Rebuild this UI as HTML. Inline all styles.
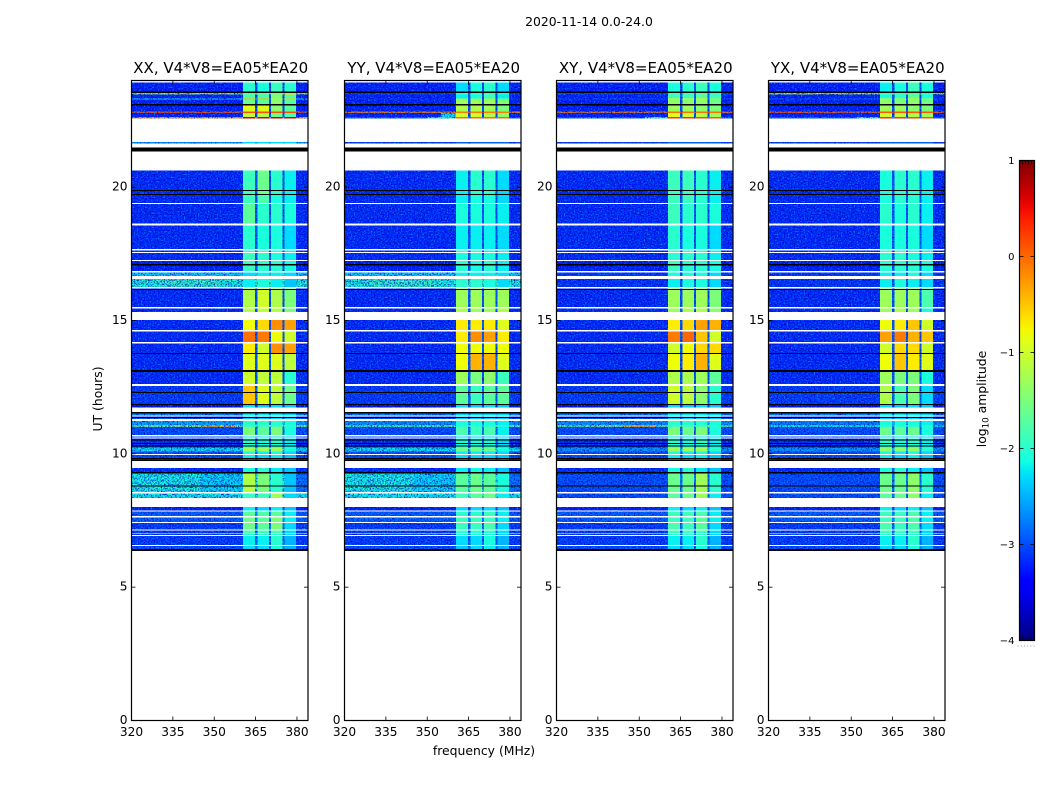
<!DOCTYPE html>
<html>
<head>
<meta charset="utf-8">
<title>2020-11-14 0.0-24.0</title>
<style>
html,body{margin:0;padding:0;background:#fff;}
svg{display:block;}
text{font-family:"DejaVu Sans","Liberation Sans",sans-serif;fill:#000;}
.cell{shape-rendering:crispEdges;}
</style>
</head>
<body>
<svg id="chart" xmlns="http://www.w3.org/2000/svg" width="1050" height="800" viewBox="0 0 1050 800">
  <defs>
    <filter id="speckle" x="0" y="0" width="100%" height="100%" color-interpolation-filters="sRGB">
      <feTurbulence type="fractalNoise" baseFrequency="0.7" numOctaves="1" seed="4" result="n"/>
      <feColorMatrix in="n" type="matrix" values="0 0 0 0 0  0 0 0 0 0.55  0 0 0 0 1  3.2 0 0 0 -1.5" result="tint"/>
      <feColorMatrix in="n" type="matrix" values="0 0 0 0 0  0 0 0 0 0  0 0 0 0 0.7  0 3.2 0 0 -1.5" result="shade"/>
      <feComposite in="tint" in2="SourceAlpha" operator="in" result="spots"/>
      <feComposite in="shade" in2="SourceAlpha" operator="in" result="darks"/>
      <feMerge><feMergeNode in="SourceGraphic"/><feMergeNode in="spots"/><feMergeNode in="darks"/></feMerge>
    </filter>
    <linearGradient id="jet-gradient" x1="0" y1="1" x2="0" y2="0"></linearGradient>
  </defs>
  <text x="589" y="26" font-size="12.4" text-anchor="middle">2020-11-14 0.0-24.0</text>
  <g id="panels"></g>
  <text x="484" y="755" font-size="12.4" text-anchor="middle">frequency (MHz)</text>
  <text transform="translate(102,399) rotate(-90)" font-size="12.4" text-anchor="middle">UT (hours)</text>
  <g id="colorbar"></g>
  <text transform="translate(986,399) rotate(-90)" font-size="12.4" text-anchor="middle">log<tspan font-size="8.7" dy="2.5">10</tspan><tspan dy="-2.5"> amplitude</tspan></text>
</svg>
<script>
// ---- data ----
var panelTitles = ["XX, V4*V8=EA05*EA20","YY, V4*V8=EA05*EA20","XY, V4*V8=EA05*EA20","YX, V4*V8=EA05*EA20"];
var freqTicks = [320,335,350,365,380];
var hourTicks = [0,5,10,15,20];
var freqRange = [320,384];
var hourRange = [0,24];
var colorTicks = [1,0,-1,-2,-3,-4];
var colorRange = [-4,1];
// frequency bins: background, sub-band 1, gap, sub-band 2, gap, sub-band 3, gap, sub-band 4, background
var freqEdges = [320,360.4,364.8,365.6,369.8,370.6,374.7,375.4,379.7,384];
// [upper UT hour, lower UT hour] for every row with data; anything else is flagged (white)
var dataRows = [
[23.92,23.54],[23.54,23.47],[23.47,23.32],[23.32,23.28],[23.28,23.09],[23.09,22.83],[22.83,22.79],[22.79,22.64],[22.64,22.57],
[21.69,21.63],[21.48,21.33],[20.62,19.71],[19.71,19.41],[19.36,18.63],[18.57,17.69],[17.63,17.57],[17.54,17.27],[17.24,16.86],
[16.80,16.67],[16.56,16.26],[16.20,15.51],[15.45,15.32],[15.02,14.65],[14.59,14.19],[14.14,13.74],[13.74,13.07],[13.07,12.62],
[12.54,11.87],[11.87,11.73],[11.57,11.43],[11.40,11.30],[11.23,11.08],[11.08,11.00],[11.00,10.70],[10.65,10.61],[10.57,10.23],
[10.23,10.08],[10.08,9.99],[9.95,9.73],[9.46,9.29],[9.29,8.56],[8.52,8.34],[8.01,7.87],[7.84,7.66],[7.62,7.44],[7.40,7.16],
[7.12,7.02],[6.99,6.95],[6.91,6.58],[6.55,6.42]];
// per row log10 amplitude: [background, band1, band2, band3, band4]
var levelsXX = [
[-3.25,-2,-2.1,-1.9,-2],[-1.5,-1.7,-1.7,-1.5,-.6],[-3.25,-1.8,-1.8,-1.5,-1.8],[-2.1,-.4,-.4,-1.2,-.5],[-3.25,-1.6,-1.7,-1.4,-1.7],[-3.25,-.9,-.9,-1.4,-1.7],[.15,.15,.15,.15,.15],[-3.25,-1.1,-1.2,-1.6,-1.8],[-.3,.65,.65,.65,.65],
[-2.6,-2.3,-2.3,-2.3,-2.3],[-3.6,-2.6,-2.5,-2.5,-2.5],[-3.2,-1.9,-1.6,-2,-2.2],[-3.2,-1.9,-1.8,-2.1,-2.2],[-3.2,-1.7,-2,-2,-2.1],[-3.2,-2,-2.1,-2.1,-2.3],[-3.2,-2,-2,-2.1,-2.2],[-3.2,-1.9,-2,-2.1,-2.2],[-3.25,-1.9,-2,-2,-2.1],
[-2.3,-2.3,-2.2,-2.2,-2.3],[-2.05,-2.2,-2.1,-2.2,-2.4],[-3.2,-1.2,-1.0,-1.2,-1.5],[-3.2,-1.2,-1.1,-1.2,-1.5],[-3.2,-.8,-.6,-.2,-.3],[-3.2,-.05,-.1,-.8,-1],[-3.2,-.7,-1,-.2,-.3],[-3.2,-.9,-.9,-.9,-1.1],[-3.2,-1,-1.1,-1.1,-2],
[-3.1,-.5,-.9,-1.1,-1.6],[-3.4,-2.3,-2.4,-2.3,-2.4],[-2.7,-2.2,-2.2,-2.2,-2.3],[-3,-2.4,-2.4,-2.3,-2.4],[-2.5,-2,-2,-2,-2.1],[-1.6,-1.9,-1.9,-1.9,-2],[-3,-1.5,-1.7,-1.5,-2.1],[-3,-2.3,-2.3,-2.3,-2.4],[-3.2,-2,-2.1,-2,-2.2],
[-2.2,-1.3,-1.3,-1.3,-2.1],[-3,-2.1,-2.2,-2.1,-2.3],[-3,-2.2,-2.3,-2.2,-2.4],[-3.2,-2.1,-2,-2.2,-2.4],[-2.25,-1.2,-1.5,-2,-2.4],[-2.15,-1.9,-1.9,-1.3,-2.3],[-3.25,-2.2,-2.3,-2.2,-2.4],[-2.9,-1.7,-1.8,-1.7,-2.2],[-2.9,-1.6,-1.7,-1.5,-2.2],[-3.1,-1.6,-1.7,-1.5,-2.3],[-3.1,-1.8,-1.9,-1.8,-2.3],[-3.1,-2,-2,-2,-2.3],[-3.1,-2.2,-2.2,-2,-2.5],[-3,-2.3,-2.3,-2.1,-2.5]];
var levelsYY = [
[-3.25,-2.3,-2.1,-2,-2.3],[-3.1,-2,-2,-1.9,-2.1],[-3.25,-2.2,-2.1,-1.9,-2.2],[-3.1,-1.3,-1.4,-1.3,-1.6],[-3.25,-1.3,-1.3,-1.3,-1.5],[-3.25,-1.2,-1.2,-1.3,-1.5],[-.1,-.1,-.1,-.1,-.1],[-3.25,-1,-1,-1.2,-1.4],[-2.9,0,0,0,0],
[-3.1,-2.9,-2.9,-2.9,-2.9],[-3.6,-2.6,-2.5,-2.5,-2.5],[-3.2,-2.2,-2,-2,-2.3],[-3.2,-2.2,-2.1,-2.1,-2.3],[-3.2,-2.1,-2.1,-2.1,-2.2],[-3.2,-2.2,-2.2,-2.2,-2.3],[-3.2,-2.1,-2.1,-2.2,-2.2],[-3.2,-2.1,-2.1,-2.1,-2.2],[-3.25,-2,-2.1,-2,-2.2],
[-2.3,-2.2,-2.2,-2.2,-2.3],[-2.05,-2,-2,-2.1,-2.3],[-3.2,-1.3,-1.3,-1.3,-1.3],[-3.2,-1.2,-1.3,-1.3,-1.2],[-3.2,-.7,-.7,-.7,-.9],[-3.2,-.7,-.2,-.3,-.7],[-3.2,-.8,-.8,-.8,-.8],[-3.2,-.8,-.4,-.4,-.9],[-3.2,-1.3,-1.5,-1.4,-1.9],
[-3.1,-1.7,-1.9,-1.7,-1.7],[-3.4,-2.3,-2.4,-2.3,-2.4],[-2.7,-2.3,-2.3,-2.3,-2.3],[-3,-2.4,-2.4,-2.4,-2.4],[-2.6,-2.1,-2.1,-2.1,-2.2],[-1.9,-2,-2,-2,-2.1],[-3,-1.8,-1.9,-1.8,-2.2],[-3,-2.4,-2.4,-2.4,-2.4],[-3.2,-2.1,-2.1,-2.1,-2.3],
[-2.2,-1.6,-1.6,-1.6,-2.1],[-3,-2.2,-2.2,-2.2,-2.3],[-3,-2.3,-2.3,-2.3,-2.4],[-3.2,-2.2,-2.1,-2.2,-2.4],[-2.25,-1.7,-1.6,-1.7,-2.1],[-2.15,-1.9,-1.7,-1.6,-2.2],[-3.25,-2.3,-2.3,-2.3,-2.4],[-2.9,-2,-2,-1.9,-2.2],[-2.9,-1.9,-1.9,-1.9,-2.2],[-3.1,-1.9,-1.9,-1.8,-2.3],[-3.1,-2,-2,-2,-2.3],[-3.1,-2.1,-2.1,-2.1,-2.3],[-3.1,-2.3,-2.3,-2.1,-2.5],[-3,-2.4,-2.3,-2.2,-2.5]];
var levelsXY = [
[-3.25,-2.1,-2,-1.9,-2.1],[-3,-1.9,-1.9,-1.8,-2],[-3.25,-1.9,-1.9,-1.7,-1.9],[-3,-.8,-.9,-.9,-1.2],[-3.25,-1.4,-1.4,-1.4,-1.6],[-3.25,-1.3,-1.3,-1.4,-1.5],[-.05,-.05,-.05,-.05,-.05],[-3.25,-.9,-1,-1.2,-1.3],[-2.9,.3,.3,.2,.1],
[-3.1,-2.9,-2.9,-2.9,-2.9],[-3.6,-2.6,-2.5,-2.5,-2.5],[-3.2,-1.9,-1.9,-2,-2.2],[-3.2,-1.9,-1.9,-2,-2.2],[-3.2,-1.9,-2,-2,-2.1],[-3.2,-2,-2.1,-2.1,-2.3],[-3.2,-2,-2,-2.1,-2.2],[-3.2,-2,-2,-2,-2.2],[-3.25,-1.9,-2,-2,-2.1],
[-3.1,-2.1,-2.1,-2.1,-2.3],[-3.15,-2.2,-2.1,-2.1,-2.3],[-3.2,-1.3,-1.3,-1.3,-1.5],[-3.2,-1.3,-1.2,-1.2,-1.4],[-3.2,-.7,-.6,-.3,-.4],[-3.2,-.1,0,-.5,-1],[-3.2,-1,-.8,-.6,-.6],[-3.2,-.8,-.7,-.4,-.9],[-3.2,-1.2,-1.2,-1.3,-1.7],
[-3.1,-1,-1.1,-1.4,-2],[-3.4,-2.3,-2.4,-2.3,-2.4],[-2.7,-2.2,-2.2,-2.2,-2.3],[-3,-2.4,-2.4,-2.3,-2.4],[-2.6,-2,-2,-2,-2.1],[-1.7,-1.9,-1.9,-1.9,-2],[-3,-1.5,-1.6,-1.5,-2.1],[-3,-2.3,-2.3,-2.3,-2.4],[-3.2,-2,-2.1,-2,-2.2],
[-2.6,-1.3,-1.3,-1.3,-2],[-3,-2.1,-2.2,-2.1,-2.3],[-3,-2.2,-2.3,-2.2,-2.4],[-3.2,-2.1,-2,-2.2,-2.4],[-3,-1.6,-1.6,-1.3,-2],[-3,-1.7,-1.6,-1.3,-2.2],[-3.25,-2.2,-2.3,-2.2,-2.4],[-2.9,-1.9,-1.9,-1.8,-2.2],[-2.9,-1.9,-1.9,-1.7,-2.2],[-3.1,-1.8,-1.9,-1.7,-2.3],[-3.1,-1.9,-1.9,-1.9,-2.3],[-3.1,-2,-2,-2,-2.3],[-3.1,-2.2,-2.2,-2,-2.5],[-3,-2.3,-2.3,-2.1,-2.5]];
var levelsYX = [
[-3.25,-2.2,-2.1,-1.9,-2.1],[-1.4,-1.9,-1.9,-1.8,-2],[-3.25,-2.1,-2,-1.7,-2.1],[-2.9,-.9,-1,-1,-1.2],[-3.25,-1.4,-1.5,-1.4,-1.6],[-3.25,-1.3,-1.3,-1.4,-1.5],[.1,.1,.1,.1,.1],[-3.25,-1,-1.1,-1.2,-1.3],[-2.9,.3,.3,.2,.1],
[-3.1,-2.9,-2.9,-2.9,-2.9],[-3.6,-2.6,-2.5,-2.5,-2.5],[-3.2,-2.1,-2,-2,-2.2],[-3.2,-2.1,-2,-2,-2.2],[-3.2,-2,-2.1,-2,-2.2],[-3.2,-2.1,-2.1,-2.1,-2.3],[-3.2,-2,-2,-2.1,-2.2],[-3.2,-2,-2,-2.1,-2.2],[-3.25,-2,-2,-2,-2.1],
[-3.1,-2.2,-2.2,-2.1,-2.3],[-3.15,-2.2,-2.1,-2.2,-2.3],[-3.2,-1.3,-1.3,-1.3,-1.8],[-3.2,-1.3,-1.2,-1.3,-2.1],[-3.2,-.8,-.7,-.5,-1],[-3.2,-.3,-.1,-.4,-.5],[-3.2,-1,-.6,-.6,-1],[-3.2,-.8,-.5,-.7,-.9],[-3.2,-1.3,-1.5,-1.5,-2.1],
[-3.1,-1.2,-1.8,-1.5,-2.3],[-3.4,-2.3,-2.4,-2.3,-2.4],[-2.7,-2.2,-2.2,-2.2,-2.3],[-3,-2.4,-2.4,-2.3,-2.4],[-2.7,-2.1,-2.1,-2.1,-2.2],[-2.2,-2,-2,-2,-2.1],[-3,-1.6,-1.7,-1.6,-2.1],[-3,-2.3,-2.3,-2.3,-2.4],[-3.2,-2,-2.1,-2,-2.2],
[-2.6,-1.4,-1.4,-1.4,-2],[-3,-2.1,-2.2,-2.1,-2.3],[-3,-2.2,-2.3,-2.2,-2.4],[-3.2,-2.1,-2,-2.2,-2.4],[-3,-1.6,-1.6,-1.4,-2],[-3,-1.7,-1.6,-1.4,-2.2],[-3.25,-2.2,-2.3,-2.2,-2.4],[-2.9,-1.9,-1.9,-1.8,-2.2],[-2.9,-1.9,-1.9,-1.8,-2.2],[-3.1,-1.8,-1.9,-1.8,-2.3],[-3.1,-1.9,-1.9,-1.9,-2.3],[-3.1,-2,-2,-2,-2.3],[-3.1,-2.2,-2.2,-2,-2.5],[-3,-2.3,-2.3,-2.1,-2.5]];
var panelLevels = [levelsXX,levelsYY,levelsXY,levelsYX];
// narrow features: [panel, row, freq from, freq to, level]
var accents = [
[0,32,346,358,-.5],[0,32,335,346,-1.3],[2,32,344,356,-.4],[2,32,332,344,-1.4],
[0,1,320,355,-1.3],[3,1,320,350,-1.2],[1,7,355,360.4,-2.2],[2,8,352,360.4,-1.9],[1,8,350,360.4,-1.9],[3,8,352,360.4,-1.9],
[0,40,320,345,-2.1],[1,40,320,345,-2.1],[0,40,375.4,384,-2.8],[1,40,375.4,384,-2.8],[0,19,330,352,-1.9],[1,19,330,352,-1.9]];
// dropouts drawn in black: [UT hour, line width in hours]
var blackLines = [
[23.56,.04],[23.09,.04],[21.41,.14],[19.88,.04],[19.73,.04],[17.09,.04],[16.17,.04],[13.76,.04],[13.10,.07],[12.30,.04],[11.85,.05],
[11.54,.04],[11.36,.04],[10.52,.05],[10.38,.04],[10.29,.04],[9.82,.05],[9.76,.03],[9.29,.04],[8.80,.03],[6.40,.07]];

// ---- layout ----
var NS = "http://www.w3.org/2000/svg";
var plotLefts = [131.5,344.5,556.5,768.5], plotWidth = 176.5, plotTop = 80.5, plotBottom = 720.5;
var cbarX = 1019.5, cbarW = 15, cbarTop = 160.5, cbarBottom = 640.5;

function el(parent, tag, attrs){
  var e = document.createElementNS(NS, tag);
  for (var k in attrs) e.setAttribute(k, attrs[k]);
  parent.appendChild(e);
  return e;
}
function interp(xs, ys, t){
  for (var i = 1; i < xs.length; i++){
    if (t <= xs[i]) return ys[i-1] + (ys[i]-ys[i-1])*(t-xs[i-1])/(xs[i]-xs[i-1]);
  }
  return ys[ys.length-1];
}
function jet(v){
  var t = Math.max(0, Math.min(1, (v-colorRange[0])/(colorRange[1]-colorRange[0])));
  var r = interp([0,.35,.66,.89,1],[0,0,1,1,.5],t);
  var g = interp([0,.125,.375,.64,.91,1],[0,0,1,1,0,0],t);
  var b = interp([0,.11,.34,.65,1],[.5,1,1,0,0],t);
  return "rgb("+Math.round(r*255)+","+Math.round(g*255)+","+Math.round(b*255)+")";
}
function xScale(p, f){ return plotLefts[p] + (f-freqRange[0])/(freqRange[1]-freqRange[0])*plotWidth; }
function yScale(h){ return plotBottom - (h-hourRange[0])/(hourRange[1]-hourRange[0])*(plotBottom-plotTop); }
function cScale(v){ return cbarBottom - (v-colorRange[0])/(colorRange[1]-colorRange[0])*(cbarBottom-cbarTop); }

var panelsRoot = document.getElementById("panels");
panelTitles.forEach(function(title, p){
  var g = el(panelsRoot, "g", {});
  
  

  var noisy = el(g, "g", {filter:"url(#speckle)"});
  
  
  var bands = el(g, "g", {});
  
  
  dataRows.forEach(function(row, r){
    var lv = panelLevels[p][r];
    var y0 = yScale(row[0]), y1 = yScale(row[1]);
    // bins alternate: bg, b1, gap, b2, gap, b3, gap, b4, bg
    var binLevels = [lv[0], lv[1], lv[0]+.25, lv[2], lv[0]+.25, lv[3], lv[0]+.25, lv[4], lv[0]];
    binLevels.forEach(function(v, b){
      var x0 = xScale(p, freqEdges[b]), x1 = xScale(p, freqEdges[b+1]);
      var parent = (b % 2 === 1) ? bands : noisy;
      var c = el(parent, "rect", {"class":"cell", x:x0, y:y0, width:x1-x0, height:Math.max(y1-y0,1), fill:jet(v)});
      
      
    });
  });
  accents.filter(function(a){ return a[0] === p; }).forEach(function(a){
    var row = dataRows[a[1]];
    var x0 = xScale(p, a[2]), x1 = xScale(p, a[3]);
    var c = el(noisy, "rect", {"class":"cell", x:x0, y:yScale(row[0]), width:x1-x0, height:Math.max(yScale(row[1])-yScale(row[0]),1), fill:jet(a[4])});
    
    
  });
  blackLines.forEach(function(l){
    var x0 = xScale(p, freqRange[0]), x1 = xScale(p, freqRange[1]);
    var b = el(g, "rect", {"class":"cell", x:x0, y:yScale(l[0]+l[1]/2), width:x1-x0, height:Math.max(l[1]*26.65,1), fill:"#000"});
    
    
  });

  var frame = el(g, "rect", {x:plotLefts[p], y:plotTop, width:plotWidth, height:plotBottom-plotTop, fill:"none", stroke:"#000", "stroke-width":"1.2"});
  
  

  var t = el(g, "text", {x:plotLefts[p]+plotWidth/2+1, y:73, "font-size":"15", "text-anchor":"middle"});
  
  
  t.textContent = title;

  freqTicks.forEach(function(f){
    var x = xScale(p, f);
    [[plotBottom,plotBottom-4],[plotTop,plotTop+4]].forEach(function(s){
      var m = el(g, "line", {x1:x, x2:x, y1:s[0], y2:s[1], stroke:"#000", "stroke-width":"0.8"});
      
      
    });
    var l = el(g, "text", {x:x, y:736, "font-size":"12.2", "text-anchor":"middle"});
    
    
    l.textContent = f;
  });
  hourTicks.forEach(function(h){
    var y = yScale(h);
    [[plotLefts[p],plotLefts[p]+4],[plotLefts[p]+plotWidth,plotLefts[p]+plotWidth-4]].forEach(function(s){
      var m = el(g, "line", {x1:s[0], x2:s[1], y1:y, y2:y, stroke:"#000", "stroke-width":"0.8"});
      
      
    });
    var l = el(g, "text", {x:plotLefts[p]-4, y:y+3.5, "font-size":"12.2", "text-anchor":"end"});
    
    
    l.textContent = h;
  });
});

// colorbar
var grad = document.getElementById("jet-gradient");
for (var i = 0; i <= 40; i++){
  var v = colorRange[0] + (colorRange[1]-colorRange[0])*i/40;
  el(grad, "stop", {offset:(i/40), "stop-color":jet(v)});
}
var cb = document.getElementById("colorbar");
var cbBar = el(cb, "rect", {x:cbarX, y:cbarTop, width:cbarW, height:cbarBottom-cbarTop, fill:"url(#jet-gradient)", stroke:"#000", "stroke-width":"1.2"});


colorTicks.forEach(function(v){
  var y = cScale(v);
  [[cbarX,cbarX+4],[cbarX+cbarW,cbarX+cbarW-4]].forEach(function(s){
    var m = el(cb, "line", {x1:s[0], x2:s[1], y1:y, y2:y, stroke:"#000", "stroke-width":"0.8"});
    
    
  });
  var l = el(cb, "text", {x:cbarX-5, y:y+3.4, "font-size":"10", "text-anchor":"end"});
  
  
  l.textContent = v < 0 ? "\u2212" + Math.abs(v) : String(v);
});
[3,6,9,12].forEach(function(dx){
  [[cbarTop,cbarTop+4],[cbarBottom,cbarBottom-4]].forEach(function(s){
    var m = el(cb, "line", {x1:cbarX+dx, x2:cbarX+dx, y1:s[0], y2:s[1], stroke:"#000", "stroke-width":"0.7"});
    
    
  });
});
var dots = el(cb, "line", {x1:cbarX-2, x2:cbarX+cbarW+1, y1:646, y2:646, stroke:"#999", "stroke-width":"1", "stroke-dasharray":"1 2.2"});


</script>
</body>
</html>
